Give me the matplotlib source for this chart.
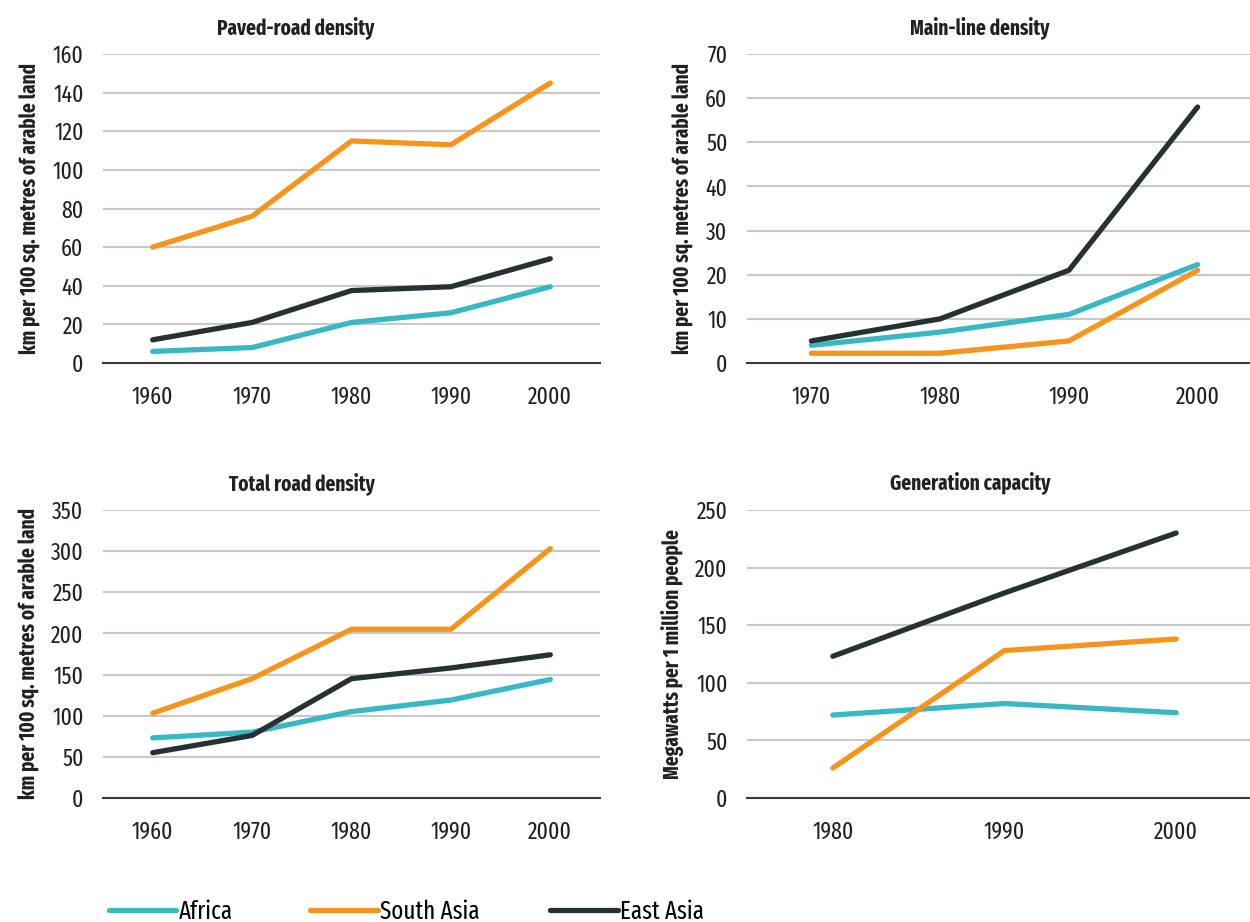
import matplotlib.pyplot as plt
from matplotlib.lines import Line2D

plt.rcParams['font.family'] = ['Fira Sans Extra Condensed', 'Fira Sans Condensed', 'PT Sans Narrow',
                               'Liberation Sans Narrow', 'DejaVu Sans']

# colours
teal = '#38b8c4'
orange = '#f7941d'
dark = '#263133'

# Paved-road density
paved_years = ['1960', '1970', '1980', '1990', '2000']
paved_africa = [6, 8, 21, 26, 39.5]
paved_south = [60, 76, 115, 113, 145]
paved_east = [12, 21, 37.5, 39.5, 54]

# Main-line density
main_years = ['1970', '1980', '1990', '2000']
main_africa = [4, 7, 11, 22.3]
main_south = [2.2, 2.2, 5, 21]
main_east = [5, 10, 21, 58]

# Total road density
total_years = ['1960', '1970', '1980', '1990', '2000']
total_africa = [73, 80, 105, 119, 144]
total_south = [103, 145, 205, 205, 303]
total_east = [55, 76, 145, 158, 174]

# Generation capacity
gen_years = ['1980', '1990', '2000']
gen_africa = [72, 82, 74]
gen_south = [26, 128, 138]
gen_east = [123, 178, 230]

road_label = 'km per 100 sq. metres of arable land'

fig = plt.figure(figsize=(12.5, 9.22), dpi=100)


def panel(rect, title, title_x, years, africa, south, east, ymax, step, ylabel, title_pad=14):
    ax = fig.add_axes(rect)
    x = list(range(len(years)))
    ax.plot(x, africa, color=teal, lw=3.8, solid_capstyle='round', zorder=3)
    ax.plot(x, south, color=orange, lw=3.8, solid_capstyle='round', zorder=3)
    ax.plot(x, east, color=dark, lw=3.8, solid_capstyle='round', zorder=3)
    ax.set_xticks(x)
    ax.set_xticklabels(years)
    ax.set_xlim(-0.5, len(years) - 0.5)
    ax.set_ylim(0, ymax)
    ax.set_yticks(range(0, ymax + 1, step))
    ax.grid(axis='y', color='#c8c8c8', lw=1.5)
    ax.set_axisbelow(True)
    for s in ['top', 'right', 'left']:
        ax.spines[s].set_visible(False)
    ax.spines['bottom'].set_color('#3a3a3a')
    ax.spines['bottom'].set_linewidth(1.5)
    ax.tick_params(length=0, labelsize=17, colors='#231f20')
    ax.tick_params(axis='x', pad=16)
    ax.tick_params(axis='y', pad=14)
    ax.set_title(title, x=title_x, fontsize=15, fontweight='bold', color='#231f20', pad=title_pad)
    ax.set_ylabel(ylabel, fontsize=15, fontweight='bold', color='#231f20', labelpad=8)
    return ax


panel([0.0824, 0.6063, 0.3976, 0.3351], 'Paved-road density', 0.388, paved_years,
      paved_africa, paved_south, paved_east, 160, 20, road_label)
panel([0.5976, 0.6063, 0.412, 0.3351], 'Main-line density', 0.452, main_years,
      main_africa, main_south, main_east, 70, 10, road_label)
panel([0.0824, 0.1345, 0.3976, 0.3124], 'Total road density', 0.40, total_years,
      total_africa, total_south, total_east, 350, 50, road_label)
panel([0.5976, 0.1345, 0.412, 0.3124], 'Generation capacity', 0.433, gen_years,
      gen_africa, gen_south, gen_east, 250, 50, 'Megawatts per 1 million people',
      title_pad=15)

# legend: one entry per call so each sits where the reference has it
for color, name, x0 in [(teal, 'Africa', 0.069), (orange, 'South Asia', 0.230), (dark, 'East Asia', 0.422)]:
    h = Line2D([], [], color=color, lw=3.8, solid_capstyle='round')
    fig.legend([h], [name], loc='lower left', bbox_to_anchor=(x0, -0.027), frameon=False,
               fontsize=18, handlelength=2.7, handletextpad=0.1)

fig.savefig('out.png', dpi=100)
